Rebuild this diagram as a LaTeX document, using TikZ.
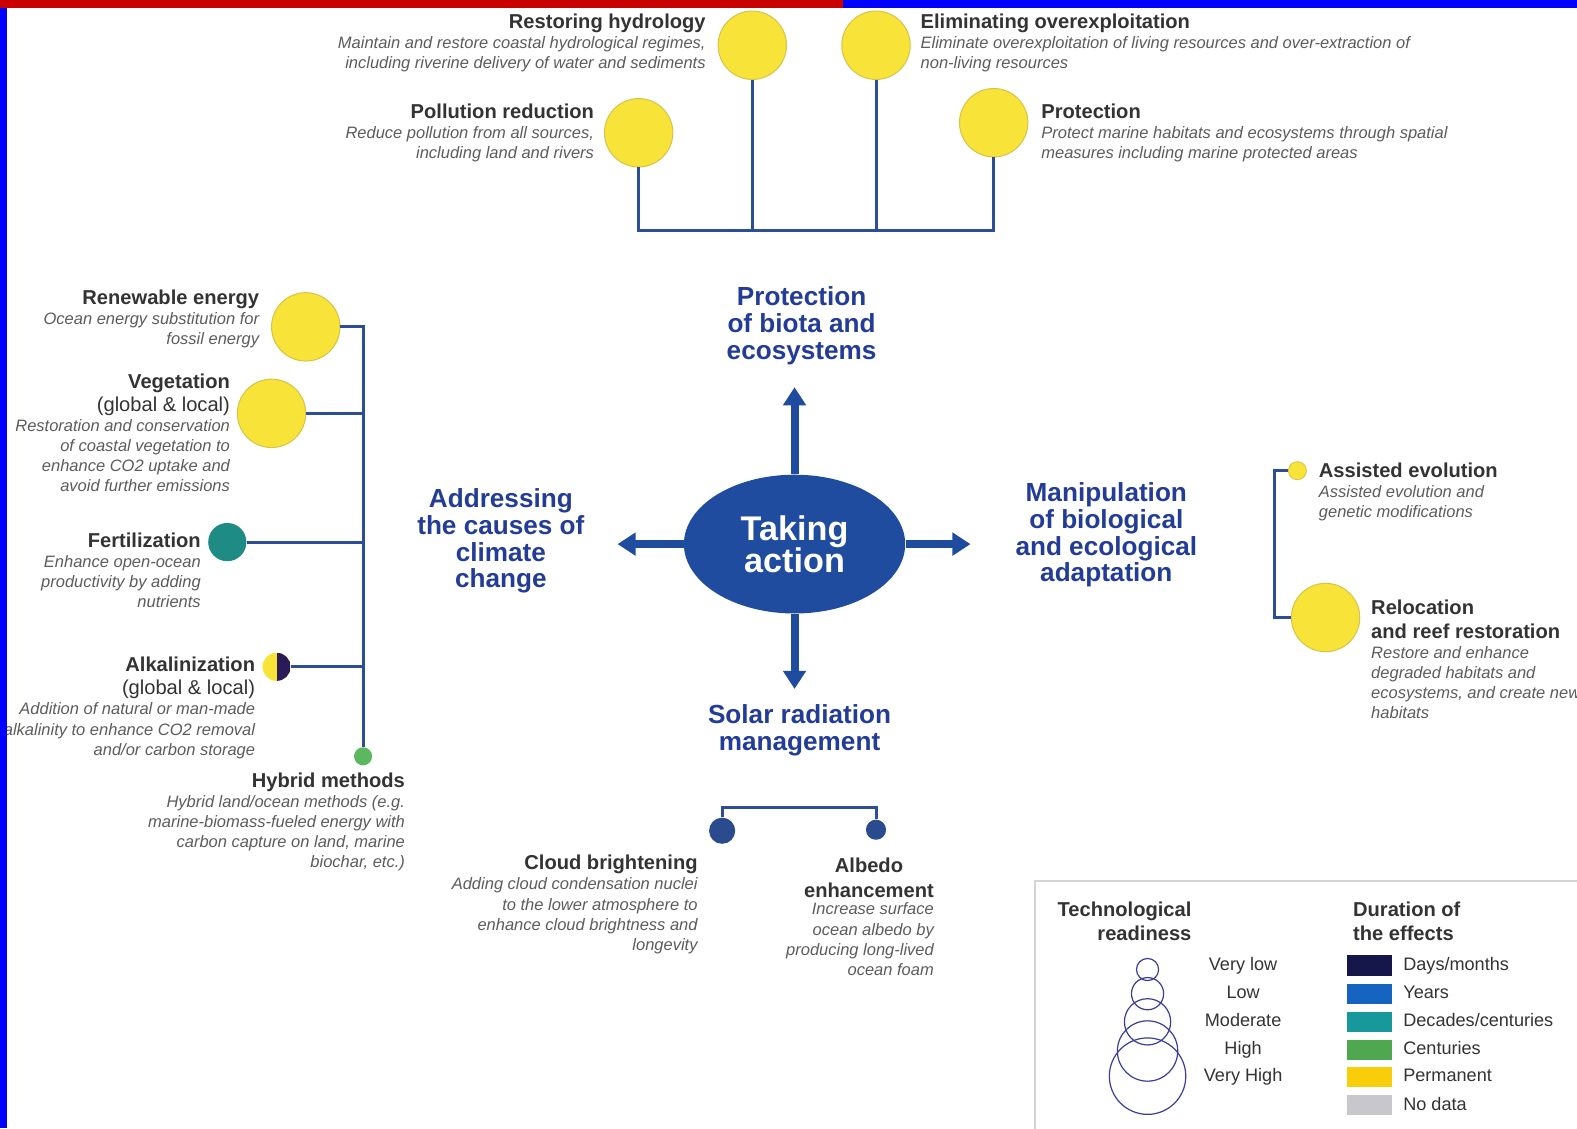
\documentclass[tikz,border=0pt]{standalone}
\usepackage{fontspec}
\setmainfont{Liberation Sans}
\usepackage{xcolor}
\usepackage{tikz}
\usetikzlibrary{positioning,arrows.meta,shapes.geometric,calc}
\definecolor{TAblue}{HTML}{1F4C9E}
\definecolor{TAlink}{HTML}{2B4E96}
\definecolor{TAlabel}{HTML}{233C96}
\definecolor{TAtitle}{HTML}{333333}
\definecolor{TAdesc}{HTML}{5C5C5C}
\definecolor{TAyellow}{HTML}{F8E338}
\definecolor{TAyellowEdge}{HTML}{D9C24A}
\definecolor{TAteal}{HTML}{1E8C84}
\definecolor{TApurple}{HTML}{2A1A55}
\definecolor{TAgreen}{HTML}{5CB860}
\definecolor{TAdot}{HTML}{2A4C8E}
\definecolor{TAring}{HTML}{3A3F95}
\definecolor{TAframe}{HTML}{D4D4D4}
\definecolor{TAdays}{HTML}{15174A}
\definecolor{TAyears}{HTML}{1565C0}
\definecolor{TAdecades}{HTML}{17999B}
\definecolor{TAcent}{HTML}{4FA84F}
\definecolor{TAperm}{HTML}{F8CD0A}
\definecolor{TAnodata}{HTML}{C8C8CC}
\definecolor{TAred}{HTML}{C80000}
\definecolor{TAedge}{HTML}{0000FF}
\newcommand{\opttitle}[1]{{\upshape\bfseries\fontsize{10}{10}\selectfont\color{TAtitle}#1}}
\newcommand{\optscope}[1]{{\upshape\fontsize{10}{10}\selectfont\color{TAtitle}#1}}

\begin{document}
\begin{tikzpicture}[x=0.5pt,y=-0.5pt]
  \tikzset{
    optcircle/.style={
      circle,
      draw=TAyellowEdge,
      line width=0.5pt,
      fill=TAyellow,
      minimum size=34pt,
      inner sep=0pt
    },
    optdot/.style={circle,draw=none,inner sep=0pt},
    optleft/.style={
      align=right,
      anchor=north east,
      inner sep=0pt,
      font=\fontsize{8.2}{10}\selectfont\itshape,
      text=TAdesc
    },
    optright/.style={optleft,align=left,anchor=north west},
    optlink/.style={draw=TAlink,line width=1.5pt},
    catlabel/.style={
      align=center,
      inner sep=0pt,
      font=\bfseries\fontsize{13}{13.3}\selectfont,
      text=TAlabel
    },
    actarrow/.style={
      -{Triangle[length=9pt,width=11pt]},
      draw=TAblue,
      line width=4pt
    },
    ringkey/.style={circle,draw=TAring,line width=0.6pt,inner sep=0pt},
    swatch/.style={minimum width=22.5pt,minimum height=10pt,inner sep=0pt},
    keytext/.style={
      inner sep=0pt,
      text height=6.6pt,
      text depth=1.9pt,
      font=\fontsize{9}{10}\selectfont,
      text=TAtitle
    },
    keytitle/.style={inner sep=0pt,font=\bfseries\fontsize{10}{12}\selectfont,text=TAtitle}
  }

  \useasboundingbox[fill=white] (0,0) rectangle (1568,1122);

  % ------------------------------------------------------------------
  % Centre: taking action and the four directions
  % ------------------------------------------------------------------
  \node[ellipse,fill=TAblue,minimum width=110pt,minimum height=69pt,
        align=center,text=white,font=\bfseries\fontsize{17}{15.5}\selectfont]
    (act) at (790,541) {Taking\\[-1pt]action};

  \coordinate (tipN) at (790,385);
  \coordinate (tipW) at (614,541);
  \coordinate (tipE) at (965,541);
  \coordinate (tipS) at (790,685);
  \draw[actarrow] (act.north) -- (tipN);
  \draw[actarrow] (act.west) -- (tipW);
  \draw[actarrow] (act.east) -- (tipE);
  \draw[actarrow] (act.south) -- (tipS);

  \node[catlabel] (catprot) at (797,324) {Protection\\of biota and\\ecosystems};
  \node[catlabel] (catcause) at (498,538) {Addressing\\the causes of\\climate\\change};
  \node[catlabel] (catadapt) at (1100,532) {Manipulation\\of biological\\and ecological\\adaptation};
  \node[catlabel] (catsolar) at (795,726) {Solar radiation\\management};

  % ------------------------------------------------------------------
  % Top: protection of biota and ecosystems
  % ------------------------------------------------------------------
  \node[optcircle] (hydro) at (748,45) {};
  \node[optcircle] (overex) at (871,45) {};
  \node[optcircle] (poll) at (635,132) {};
  \node[optcircle] (prot) at (988,122) {};

  \node[optleft] (hydrotxt) at (702,13)
    {\opttitle{Restoring hydrology}\\
     Maintain and restore coastal hydrological regimes,\\
     including riverine delivery of water and sediments};
  \node[optleft] (polltxt) at (591,103)
    {\opttitle{Pollution reduction}\\
     Reduce pollution from all sources,\\
     including land and rivers};
  \node[optright] (overextxt) at (915,13)
    {\opttitle{Eliminating overexploitation}\\
     Eliminate overexploitation of living resources and over-extraction of\\
     non-living resources};
  \node[optright] (prottxt) at (1035,103)
    {\opttitle{Protection}\\
     Protect marine habitats and ecosystems through spatial\\
     measures including marine protected areas};

  \coordinate (topbar) at (811,229);
  \draw[optlink] (poll.south) -- (poll.south |- topbar)
    -- (prot.south |- topbar) -- (prot.south);
  \draw[optlink] (hydro.south) -- (hydro.south |- topbar);
  \draw[optlink] (overex.south) -- (overex.south |- topbar);

  % ------------------------------------------------------------------
  % Left: addressing the causes of climate change
  % ------------------------------------------------------------------
  \node[optcircle] (renew) at (304,325) {};
  \node[optcircle] (veg) at (270,411) {};
  \node[optdot,fill=TAteal,minimum size=19pt] (fert) at (226,539) {};
  \node[optdot,fill=TAyellow,minimum size=14pt,
        path picture={\fill[TApurple] (path picture bounding box.north)
          rectangle (path picture bounding box.south east);}]
    (alk) at (275,663) {};
  \node[optdot,fill=TAgreen,minimum size=9pt] (hybrid) at (361,752) {};

  \draw[optlink] (renew.east) -| (hybrid.north);
  \draw[optlink] (veg.east) -- (veg.east -| hybrid.center);
  \draw[optlink] (fert.east) -- (fert.east -| hybrid.center);
  \draw[optlink] (alk.east) -- (alk.east -| hybrid.center);

  \node[optleft] (renewtxt) at (258,288)
    {\opttitle{Renewable energy}\\
     Ocean energy substitution for\\
     fossil energy};
  \node[optleft] (vegtxt) at (229,371)
    {\opttitle{Vegetation}\\[1.5pt]
     \optscope{(global \& local)}\\
     Restoration and conservation\\
     of coastal vegetation to\\
     enhance CO2 uptake and\\
     avoid further emissions};
  \node[optleft] (ferttxt) at (200,529)
    {\opttitle{Fertilization}\\
     Enhance open-ocean\\
     productivity by adding\\
     nutrients};
  \node[optleft] (alktxt) at (254,653)
    {\opttitle{Alkalinization}\\[1.5pt]
     \optscope{(global \& local)}\\
     Addition of natural or man-made\\
     alkalinity to enhance CO2 removal\\
     and/or carbon storage};
  \node[optleft] (hybridtxt) at (403,768)
    {\opttitle{Hybrid methods}\\
     Hybrid land/ocean methods (e.g.\\
     marine-biomass-fueled energy with\\
     carbon capture on land, marine\\
     biochar, etc.)};

  % ------------------------------------------------------------------
  % Right: biological and ecological adaptation
  % ------------------------------------------------------------------
  \node[optdot,fill=TAyellow,draw=TAyellowEdge,line width=0.4pt,minimum size=9pt]
    (assist) at (1290,468) {};
  \node[optcircle] (reloc) at (1318,614) {};
  \draw[optlink] (assist.west) -- ++(-13,0) |- (reloc.west);

  \node[optright] (assisttxt) at (1311,460)
    {\opttitle{Assisted evolution}\\
     Assisted evolution and\\
     genetic modifications};
  \node[optright] (reloctxt) at (1363,596)
    {\opttitle{Relocation}\\[2pt]
     \opttitle{and reef restoration}\\
     Restore and enhance\\
     degraded habitats and\\
     ecosystems, and create new\\
     habitats};

  % ------------------------------------------------------------------
  % Bottom: solar radiation management
  % ------------------------------------------------------------------
  \node[optdot,fill=TAdot,minimum size=13pt] (cloud) at (718,826) {};
  \node[optdot,fill=TAdot,minimum size=10pt] (albedo) at (871,825) {};
  \draw[optlink] (cloud.north) -- ++(0,-10) -| (albedo.north);

  \node[optleft] (cloudtxt) at (694,850)
    {\opttitle{Cloud brightening}\\
     Adding cloud condensation nuclei\\
     to the lower atmosphere to\\
     enhance cloud brightness and\\
     longevity};
  \node[keytitle,align=center,anchor=north] (albedottl) at (864,853)
    {Albedo\\enhancement};
  \node[optleft] (albedotxt) at ([yshift=-2.5pt]albedottl.south east)
    {Increase surface\\
     ocean albedo by\\
     producing long-lived\\
     ocean foam};

  % ------------------------------------------------------------------
  % Key: readiness and duration
  % ------------------------------------------------------------------
  \draw[draw=TAframe,line width=0.75pt] (1029,876) rectangle (1620,1160);

  \node[keytitle,align=right,anchor=north east] (readytitle) at (1185,896)
    {Technological\\readiness};
  \node[ringkey,minimum size=38pt] (ring5) at (1141,1070) {};
  \node[ringkey,minimum size=30pt] (ring4) at (1141,1045) {};
  \node[ringkey,minimum size=23pt] (ring3) at (1141,1016) {};
  \node[ringkey,minimum size=16pt] (ring2) at (1141,988) {};
  \node[ringkey,minimum size=11pt] (ring1) at (1141,964) {};
  \node[keytext] (ready1) at (1236,960) {Very low};
  \node[keytext] (ready2) at (1236,988) {Low};
  \node[keytext] (ready3) at (1236,1016) {Moderate};
  \node[keytext] (ready4) at (1236,1044) {High};
  \node[keytext] (ready5) at (1236,1071) {Very High};

  \node[keytitle,align=left,anchor=north west] (durtitle) at (1345,896)
    {Duration of\\the effects};
  \node[swatch,fill=TAdays] (swdays) at (1362,960) {};
  \node[swatch,fill=TAyears] (swyears) at (1362,988) {};
  \node[swatch,fill=TAdecades] (swdecades) at (1362,1016) {};
  \node[swatch,fill=TAcent] (swcent) at (1362,1044) {};
  \node[swatch,fill=TAperm] (swperm) at (1362,1071) {};
  \node[swatch,fill=TAnodata] (swnodata) at (1362,1099) {};
  \node[keytext,right=5pt of swdays] {Days/months};
  \node[keytext,right=5pt of swyears] {Years};
  \node[keytext,right=5pt of swdecades] {Decades/centuries};
  \node[keytext,right=5pt of swcent] {Centuries};
  \node[keytext,right=5pt of swperm] {Permanent};
  \node[keytext,right=5pt of swnodata] {No data};

  % Edge strips.
  \fill[TAred] (0,0) rectangle (838,8);
  \fill[TAedge] (838,0) rectangle (1568,8);
  \fill[TAedge] (0,8) rectangle (7,1122);
\end{tikzpicture}
\end{document}
